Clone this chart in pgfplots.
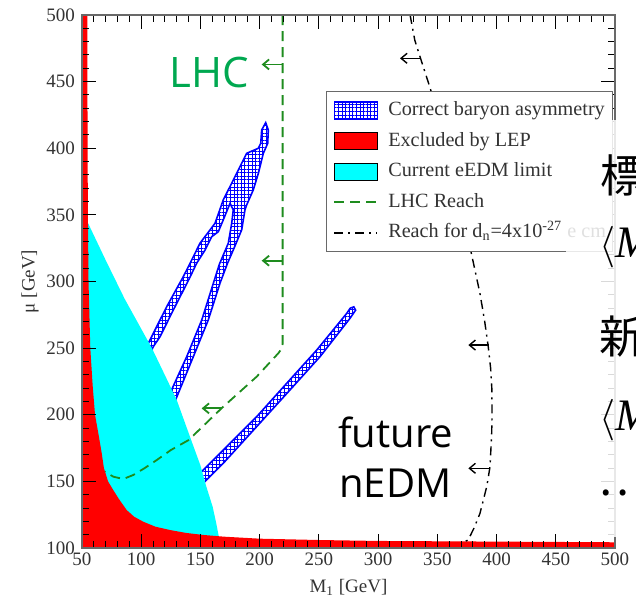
\documentclass[border=0pt]{standalone}
\usepackage{fontspec}
\setmainfont{Liberation Serif}
\newfontfamily\slidesans{Open Sans}
\newfontfamily\cjk{Noto Sans CJK JP}
\usepackage{pgfplots}
\pgfplotsset{compat=1.18}
\usetikzlibrary{patterns.meta, arrows.meta}

\definecolor{lepred}{RGB}{255,0,0}
\definecolor{eedmcyan}{RGB}{0,255,255}
\definecolor{baryblue}{RGB}{0,0,255}
\definecolor{lhcgreen}{RGB}{30,140,30}
\definecolor{labelgreen}{RGB}{0,168,80}
\definecolor{framegray}{RGB}{105,105,105}

\tikzset{
  hatchfill/.style={pattern={Hatch[angle=0,distance=1.8pt,line width=0.35pt]},
                    pattern color=baryblue, draw=baryblue, line width=0.8pt},
  lhcline/.style={lhcgreen, line width=0.9pt, dash pattern=on 5pt off 3pt},
  edmline/.style={black, line width=0.7pt, dash pattern=on 4.5pt off 2.5pt on 1pt off 2.5pt},
  lhcarrow/.style={lhcgreen, line width=0.9pt, -{Straight Barb[length=3pt,width=5pt]}},
  edmarrow/.style={black, line width=0.7pt, -{Straight Barb[length=3pt,width=5pt]}},
}
\pgfplotsset{
  rectlegend/.style={legend image code/.code={\draw[##1] (0pt,-4.25pt) rectangle (21.5pt,4.25pt);}},
  linelegend/.style={legend image code/.code={\draw[##1] (0pt,0pt) -- (21.5pt,0pt);}},
}

\begin{document}
\begin{tikzpicture}
\begin{axis}[
  scale only axis, width=266.5pt, height=266.5pt,
  xmin=50, xmax=500, ymin=100, ymax=500,
  xtick={50,100,...,500}, ytick={100,150,...,500},
  minor x tick num=4, minor y tick num=4,
  tick align=inside, tick pos=both,
  major tick length=7pt, minor tick length=3.5pt,
  every tick/.style={black, line width=0.5pt},
  axis line style={framegray, line width=0.7pt},
  axis on top,
  /pgf/number format/assume math mode=true,
  tick label style={font=\rmfamily\fontsize{9.5}{11}\selectfont, text=black!80},
  xticklabel shift=-1pt,
  xlabel={M\textsubscript{1} [GeV]}, ylabel={μ [GeV]},
  ylabel shift=-3pt,
  label style={font=\rmfamily\fontsize{9.5}{11}\selectfont, text=black!80},
  legend cell align=left,
  legend style={at={(0.4578,0.8574)}, anchor=north west,
    draw=framegray, line width=0.5pt, fill=white,
    font=\rmfamily\fontsize{10.1}{12}\selectfont, text=black!80,
    inner xsep=3.5pt, inner ysep=4.5pt, row sep=5.3pt,
    nodes={inner sep=0pt, text height=7.5pt, text depth=2.5pt},
    /tikz/every odd column/.style={column sep=5pt}},
]
% correct baryon asymmetry: forked band
\addplot[hatchfill, forget plot] coordinates {
  (90,225) (107.4,256.1) (121.5,281.1) (135.5,303.6) (142.6,316.1)
  (149.6,328.7) (162.3,343.7) (169.3,361.3) (180.6,381.2) (189,396.2)
  (198.9,400) (200.9,403.7) (201.7,413.7) (205.1,419.2)
  (207.3,413.7) (206.8,403.7) (203.1,396.2) (198.9,381.2) (194.6,368.7)
  (189,357.4) (187.6,353.7) (184.8,338.7) (177.7,323.6) (173,314)
  (166.5,298.7) (156.6,271.1) (144,243.6) (131.3,216.1) (121.6,195)
  (114.6,195) (124.3,216.1) (138.4,243.6) (151.1,271.1) (160.9,298.7)
  (166,313) (173.5,328.7) (176.4,343.7) (177.7,353.7) (175,358.7)
  (169.3,346.3) (165.1,337.4) (159.5,333.6) (153.9,323.6) (146.8,313.7)
  (140.5,302) (127.1,278.6) (115.9,258.6) (110.2,251.1) (97,225)
} -- cycle;
% correct baryon asymmetry: lower band
\addplot[hatchfill, forget plot] coordinates {
  (140,147.5) (152.4,158.5) (169.3,173.5) (197.5,198.6) (222.8,223.6)
  (248.2,248.6) (273.5,276.1) (276.5,280) (279.5,281) (281,278.5)
  (276.3,272.4) (251,243.6) (225.6,218.6) (197.5,191.1) (169.3,163.6)
  (152.4,148.6) (140,137.6)
} -- cycle;
% current eEDM limit
\addplot[fill=eedmcyan, draw=none, forget plot] coordinates {
  (50,344) (55,344) (70,316) (86,287) (109,250) (122,226) (130,211)
  (143,179) (150,162) (155,146) (160.3,131) (163,120) (165,111)
  (166,106) (166,100) (50,100)
} -- cycle;
% LEP exclusion
\addplot[fill=lepred, draw=none, forget plot] coordinates {
  (50,100) (50,500) (54.5,500) (54.7,400) (55,350) (55.5,300) (57,250)
  (59,222) (61,200) (64,185) (66.5,172) (68.5,160) (72,150) (76.4,143.5)
  (81,137) (87.7,128.5) (94,123.5) (101.8,119.7) (112,116) (124.3,113.5)
  (138,111.3) (152.4,109.8) (170,108.5) (200,107) (250,106) (300,105.3)
  (400,104.8) (500,104.3) (500,100)
} -- cycle;
% LHC reach
\addplot[lhcline, forget plot] coordinates {
  (219.4,500) (219.4,253) (218.5,249.5) (215.7,246.1) (197.5,228.6)
  (168,205) (140,181) (125,173.5) (113.1,166) (103,160) (93.3,154.8)
  (84.9,151.8) (76.5,153.5) (69.4,157.3)
};
\addplot[lhcarrow, forget plot] coordinates {(219.4,462.9) (201.7,462.9)};
\addplot[lhcarrow, forget plot] coordinates {(219.4,315.6) (201.7,315.6)};
\addplot[lhcarrow, forget plot] coordinates {(168,204.8) (151,204.8)};
% neutron EDM reach
\addplot[edmline, forget plot] coordinates {
  (327,500) (331,481) (336,467) (344,445) (352,420) (360,395) (367,370)
  (373,345) (379,320) (386,291) (390,270) (393,251) (395,235) (396,220)
  (396.2,200) (395.9,186) (394.5,161) (391.7,146) (386,126) (381,115)
  (376,106) (373,104.8)
};
\addplot[edmarrow, forget plot] coordinates {(336,467.5) (318.5,467.5)};
\addplot[edmarrow, forget plot] coordinates {(393.5,252.3) (376.2,252.3)};
\addplot[edmarrow, forget plot] coordinates {(394.5,159.8) (376.2,159.8)};

\addlegendimage{rectlegend, hatchfill}
\addlegendentry{Correct baryon asymmetry}
\addlegendimage{rectlegend, fill=lepred, draw=none}
\addlegendentry{Excluded by LEP}
\addlegendimage{rectlegend, fill=eedmcyan, draw=none}
\addlegendentry{Current eEDM limit}
\addlegendimage{linelegend, lhcline}
\addlegendentry{LHC Reach}
\addlegendimage{linelegend, edmline}
\addlegendentry{Reach for d\textsubscript{n}=4x10\textsuperscript{-27} e cm}
\end{axis}

% slide annotations laid over the figure
\begin{scope}[shift={(-41pt,274pt)}, x=0.5pt, y=-0.5pt]
  \fill[white, opacity=0.85] (566,120) rectangle (660,537);
  \node[anchor=base west, inner sep=0pt, text=labelgreen,
        font=\slidesans\fontsize{21}{25}\selectfont] at (169,88) {LHC};
  \node[anchor=base west, inner sep=0pt,
        font=\slidesans\fontsize{20}{24}\selectfont] at (338,447) {future};
  \node[anchor=base west, inner sep=0pt,
        font=\slidesans\fontsize{20}{24}\selectfont] at (339,497) {nEDM};
  \node[anchor=base west, inner sep=0pt,
        font=\cjk\fontsize{22.5}{26}\selectfont] at (600,192) {標};
  \node[anchor=base west, inner sep=0pt,
        font=\fontsize{22.5}{26}\selectfont] at (599,257) {$\biggl\langle$\textit{M}};
  \node[anchor=base west, inner sep=0pt,
        font=\cjk\fontsize{22.5}{26}\selectfont] at (599,353) {新};
  \node[anchor=base west, inner sep=0pt,
        font=\fontsize{22.5}{26}\selectfont] at (599,430) {$\biggl\langle$\textit{M}};
  \node[anchor=base west, inner sep=0pt,
        font=\cjk\fontsize{22.5}{26}\selectfont] at (598,495) {…};
\end{scope}
\pgfresetboundingbox
\useasboundingbox (-41pt,-26.5pt) rectangle (277pt,274pt);
\end{tikzpicture}
\end{document}
